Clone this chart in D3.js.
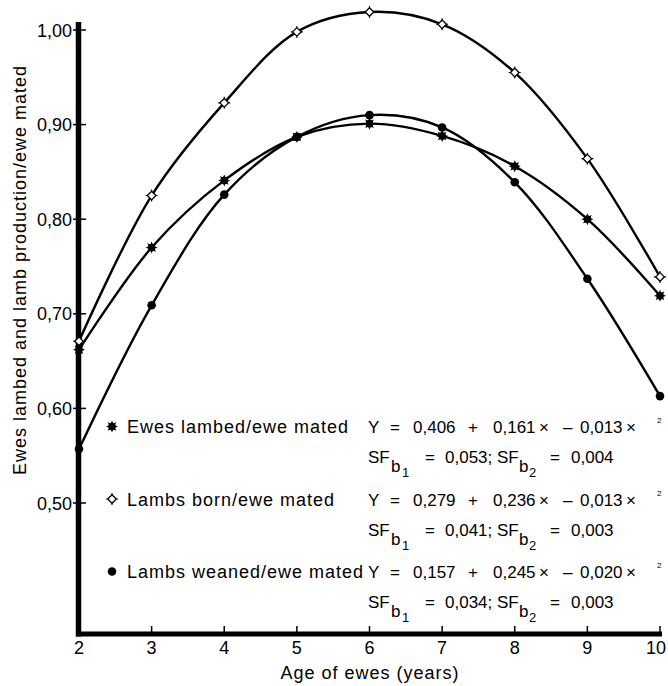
<!DOCTYPE html>
<html><head><meta charset="utf-8">
<script src="https://cdn.jsdelivr.net/npm/d3@7"></script>
<style>
body{margin:0;background:#fff}
svg{display:block}
text{font-family:"Liberation Sans",Arial,Helvetica,sans-serif;fill:#000}
</style>
</head><body>
<svg id="c" width="668" height="686"></svg>
<script>
// ---- data ----
const ages = [2, 3, 4, 5, 6, 7, 8, 9, 10];
const ewesLambed  = [0.662, 0.770, 0.841, 0.887, 0.901, 0.888, 0.856, 0.800, 0.719];
const lambsBorn   = [0.671, 0.825, 0.923, 0.998, 1.019, 1.006, 0.955, 0.864, 0.739];
const lambsWeaned = [0.557, 0.709, 0.826, 0.887, 0.910, 0.897, 0.839, 0.737, 0.613];
const yTicks = [0.5, 0.6, 0.7, 0.8, 0.9, 1.0];
const xTicks = [2, 3, 4, 5, 6, 7, 8, 9, 10];
const seriesNames = ["Ewes lambed/ewe mated", "Lambs born/ewe mated", "Lambs weaned/ewe mated"];
const eqB0 = ["0,406", "0,279", "0,157"];
const eqB1 = ["0,161", "0,236", "0,245"];
const eqB2 = ["0,013", "0,013", "0,020"];
const sfB1 = ["0,053", "0,041", "0,034"];
const sfB2 = ["0,004", "0,003", "0,003"];
const xTitle = "Age of ewes (years)";
const yTitle = "Ewes lambed and lamb production/ewe mated";

// ---- layout ----
const svg = d3.select("#c");
const x = d3.scaleLinear().domain([2, 10]).range([79, 660]);
const y = d3.scaleLinear().domain([0.5, 1.0]).range([503, 30]);
const plotTop = 22, plotBottom = 634;
const fmt = v => v.toFixed(2).replace(".", ",");

// axes lines
svg.append("line").attr("x1", 78.5).attr("x2", 78.5).attr("y1", plotTop).attr("y2", plotBottom + 2.5)
  .attr("stroke", "#000").attr("stroke-width", 5.5);
svg.append("line").attr("x1", 76).attr("x2", 662).attr("y1", plotBottom).attr("y2", plotBottom)
  .attr("stroke", "#000").attr("stroke-width", 5);

// y ticks
const yt = svg.append("g");
yTicks.forEach(t => {
  yt.append("line").attr("x1", 73).attr("x2", 86).attr("y1", y(t)).attr("y2", y(t))
    .attr("stroke", "#000").attr("stroke-width", 1.5);
  yt.append("text").attr("x", 72).attr("y", y(t) + 6.5).attr("text-anchor", "end")
    .attr("font-size", 18).text(fmt(t));
});
// x ticks
const xt = svg.append("g");
xTicks.forEach(t => {
  xt.append("line").attr("x1", x(t)).attr("x2", x(t)).attr("y1", plotBottom - 8).attr("y2", plotBottom)
    .attr("stroke", "#000").attr("stroke-width", 1.5);
  xt.append("text").attr("x", Math.min(x(t), 656)).attr("y", 654).attr("text-anchor", "middle")
    .attr("font-size", 18).text(t);
});

// titles
svg.append("text").attr("x", 370).attr("y", 679).attr("text-anchor", "middle")
  .attr("font-size", 18).attr("letter-spacing", 1).text(xTitle);
svg.append("text").attr("transform", "translate(26,270) rotate(-90)").attr("text-anchor", "middle")
  .attr("font-size", 18).attr("letter-spacing", 1).text(yTitle);

// lines
const series = [ewesLambed, lambsBorn, lambsWeaned];
const line = d3.line().x(d => x(d[0])).y(d => y(d[1])).curve(d3.curveCatmullRom.alpha(0.5));
series.forEach(s => {
  svg.append("path").attr("d", line(ages.map((a, i) => [a, s[i]])))
    .attr("fill", "none").attr("stroke", "#000").attr("stroke-width", 2.4);
});

// markers
function starPath(R, r) {
  const pts = [];
  for (let k = 0; k < 16; k++) {
    const ang = k * Math.PI / 8 - Math.PI / 2;
    const rr = k % 2 === 0 ? R : r;
    pts.push([rr * Math.cos(ang), rr * Math.sin(ang)]);
  }
  return "M" + pts.map(p => p.join(",")).join("L") + "Z";
}
const star = starPath(6, 3.3);
function drawMarker(g, kind, cx, cy) {
  const m = g.append("g").attr("transform", `translate(${cx},${cy})`);
  if (kind === 0) {
    m.append("path").attr("d", star).attr("fill", "#000");
    m.append("circle").attr("r", 3.6).attr("fill", "#000");
  } else if (kind === 1) {
    m.append("path").attr("d", "M0,-6V-4.3M4.3,0H6M0,4.3V6M-4.3,0H-6").attr("stroke", "#000").attr("stroke-width", 1.1);
    m.append("path").attr("d", "M0,-4.3L4.3,0L0,4.3L-4.3,0Z").attr("fill", "#fff").attr("stroke", "#000").attr("stroke-width", 1.3);
  } else {
    m.append("circle").attr("r", 4.3).attr("fill", "#000");
  }
}
const mk = svg.append("g");
series.forEach((s, k) => {
  ages.forEach((a, i) => drawMarker(mk, k, x(a), y(s[i])));
});

// legend + equations
const lg = svg.append("g");
seriesNames.forEach((name, i) => {
  const by = 433 + i * 72.5;
  drawMarker(lg, i, 112, by - 6.5);
  lg.append("text").attr("x", 127).attr("y", by).attr("font-size", 18).attr("letter-spacing", 1).text(name);
  const row1 = [["Y", 368], ["=", 390], [eqB0[i], 413], ["+", 468], [eqB1[i], 493], ["\u00d7", 539],
                ["\u2013", 563], [eqB2[i], 580], ["\u00d7", 626]];
  row1.forEach(([t, px]) => lg.append("text").attr("x", px).attr("y", by).attr("font-size", 17).text(t));
  lg.append("text").attr("x", 657).attr("y", by - 10).attr("font-size", 8).text("2");
  const sy = by + 30;
  const row2 = [["SF", 368, 0, 17], ["b", 391, 9, 17], ["1", 402, 14, 13], ["=", 425, 0, 17],
                [sfB1[i] + ";", 445, 0, 17], ["SF", 497, 0, 17], ["b", 519, 9, 17], ["2", 529, 14, 13],
                ["=", 550, 0, 17], [sfB2[i], 571, 0, 17]];
  row2.forEach(([t, px, dy, fs]) => lg.append("text").attr("x", px).attr("y", sy + dy).attr("font-size", fs).text(t));
});
</script>
</body></html>
